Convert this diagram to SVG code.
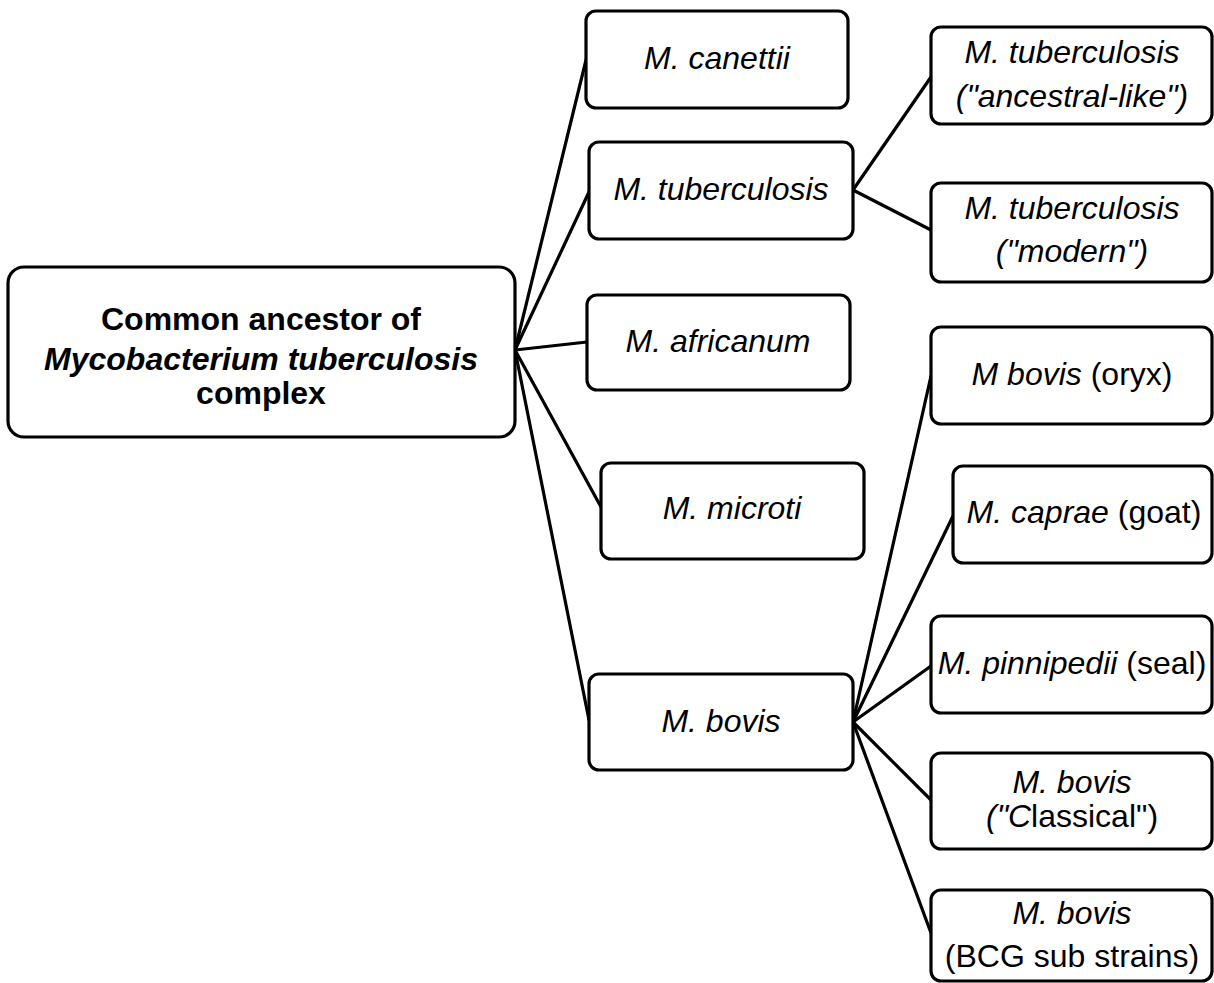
<svg xmlns="http://www.w3.org/2000/svg" width="1214" height="983" viewBox="0 0 1214 983">
<style>
.box{fill:#fff;stroke:#000;stroke-width:3.2}
.ln{stroke:#000;stroke-width:3.2;fill:none;stroke-linecap:round}
text{font-family:"Liberation Sans",Arial,sans-serif;font-size:32px;fill:#000;text-anchor:middle}
.i{font-style:italic}
.b{font-weight:bold}
</style>
<rect width="1214" height="983" fill="#fff"/>
<g id="connectors">
<line class="ln" x1="515" y1="350" x2="586" y2="60"/>
<line class="ln" x1="515" y1="350" x2="589" y2="192"/>
<line class="ln" x1="515" y1="350" x2="587" y2="342"/>
<line class="ln" x1="515" y1="350" x2="601" y2="507"/>
<line class="ln" x1="515" y1="350" x2="589" y2="720"/>
<line class="ln" x1="853" y1="190" x2="931" y2="77"/>
<line class="ln" x1="853" y1="190" x2="931" y2="230"/>
<line class="ln" x1="853" y1="722" x2="931" y2="376"/>
<line class="ln" x1="853" y1="722" x2="953" y2="516"/>
<line class="ln" x1="853" y1="722" x2="931" y2="666"/>
<line class="ln" x1="853" y1="722" x2="931" y2="800"/>
<line class="ln" x1="853" y1="722" x2="931" y2="933"/>
</g>
<g id="root">
<rect class="box" x="8" y="267" width="507" height="170" rx="16"/>
<text class="b" x="261" y="330">Common ancestor of</text>
<text class="b i" x="261" y="370">Mycobacterium tuberculosis</text>
<text class="b" x="261" y="404">complex</text>
</g>
<g id="canettii">
<rect class="box" x="586" y="11" width="262" height="97" rx="10"/>
<text class="i" x="717" y="69">M. canettii</text>
</g>
<g id="tuberculosis">
<rect class="box" x="589" y="142" width="264" height="97" rx="10"/>
<text class="i" x="721" y="200">M. tuberculosis</text>
</g>
<g id="africanum">
<rect class="box" x="587" y="295" width="263" height="95" rx="10"/>
<text class="i" x="718" y="352">M. africanum</text>
</g>
<g id="microti">
<rect class="box" x="601" y="463" width="263" height="96" rx="10"/>
<text class="i" x="732" y="519">M. microti</text>
</g>
<g id="bovis">
<rect class="box" x="589" y="674" width="264" height="96" rx="10"/>
<text class="i" x="721" y="732">M. bovis</text>
</g>
<g id="tb-ancestral">
<rect class="box" x="931" y="27" width="281" height="97" rx="10"/>
<text class="i" x="1072" y="63">M. tuberculosis</text>
<text class="i" x="1072" y="107">("ancestral-like")</text>
</g>
<g id="tb-modern">
<rect class="box" x="931" y="183" width="281" height="99" rx="10"/>
<text class="i" x="1072" y="219">M. tuberculosis</text>
<text class="i" x="1072" y="262">("modern")</text>
</g>
<g id="oryx">
<rect class="box" x="931" y="327" width="281" height="97" rx="10"/>
<text x="1072" y="385"><tspan class="i">M bovis</tspan> (oryx)</text>
</g>
<g id="caprae">
<rect class="box" x="953" y="466" width="259" height="97" rx="10"/>
<text x="1084" y="523"><tspan class="i">M. caprae</tspan> (goat)</text>
</g>
<g id="pinnipedii">
<rect class="box" x="931" y="616" width="281" height="97" rx="10"/>
<text x="1072" y="674"><tspan class="i">M. pinnipedii</tspan> (seal)</text>
</g>
<g id="classical">
<rect class="box" x="931" y="753" width="281" height="96" rx="10"/>
<text class="i" x="1072" y="793">M. bovis</text>
<text x="1072" y="827"><tspan class="i">("C</tspan>lassical")</text>
</g>
<g id="bcg">
<rect class="box" x="931" y="890" width="281" height="91" rx="10"/>
<text class="i" x="1072" y="924">M. bovis</text>
<text x="1072" y="967">(BCG sub strains)</text>
</g>
</svg>
